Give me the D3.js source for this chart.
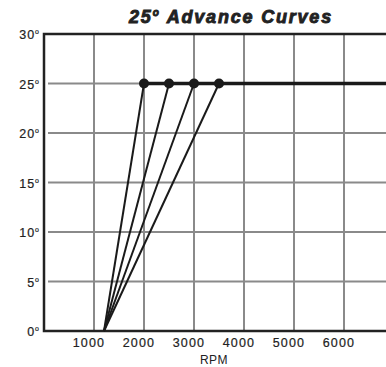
<!DOCTYPE html>
<html>
<head>
<meta charset="utf-8">
<script src="https://cdn.jsdelivr.net/npm/d3@7"></script>
<style>
  body { margin: 0; background: #fff; }
  text { font-family: "Liberation Sans", Arial, sans-serif; fill: #222; }
</style>
</head>
<body>
<script>
const rpmTicks = [1000, 2000, 3000, 4000, 5000, 6000];
const degTicks = [0, 5, 10, 15, 20, 25, 30];
const startRpm = 1200;
const fullRpms = [2000, 2500, 3000, 3500];
const fullAdvance = 25;

const width = 386, height = 367;
const svg = d3.select('body').append('svg')
    .attr('width', width)
    .attr('height', height);

const x = d3.scaleLinear().domain([0, 7000]).range([44, 394]);
const y = d3.scaleLinear().domain([0, 30]).range([331, 34]);

// grid
svg.selectAll('.vgrid')
    .data(rpmTicks)
    .enter()
    .append('line')
    .attr('x1', d => x(d)).attr('x2', d => x(d))
    .attr('y1', y(30)).attr('y2', y(0))
    .attr('stroke', '#8a8a8a')
    .attr('stroke-width', 2);

svg.selectAll('.hgrid')
    .data(degTicks.filter(d => d > 0 && d < 30))
    .enter()
    .append('line')
    .attr('x1', x(0) + 4).attr('x2', width)
    .attr('y1', d => y(d)).attr('y2', d => y(d))
    .attr('stroke', '#8a8a8a')
    .attr('stroke-width', 2);

// frame
svg.append('path')
    .attr('d', `M${width},${y(30)} H${x(0)} V${y(0)} H${width}`)
    .attr('fill', 'none')
    .attr('stroke', '#222')
    .attr('stroke-width', 2.5);

// y labels
const yl = svg.selectAll('.ylab')
    .data(degTicks)
    .enter()
    .append('text')
    .attr('x', 39)
    .attr('y', d => y(d) + 5)
    .attr('text-anchor', 'end')
    .attr('font-size', 12.5)
    .attr('letter-spacing', 1)
    .attr('stroke', '#222')
    .attr('stroke-width', 0.2);
yl.append('tspan').text(d => d);
yl.append('tspan').attr('font-size', 7).attr('dy', -5).attr('letter-spacing', 0).text('o');

// x labels
svg.selectAll('.xlab')
    .data(rpmTicks)
    .enter()
    .append('text')
    .attr('x', d => x(d) + 11)
    .attr('y', 347)
    .attr('text-anchor', 'end')
    .attr('font-size', 12.5)
    .attr('letter-spacing', 1.1)
    .attr('stroke', '#222')
    .attr('stroke-width', 0.2)
    .text(d => d);

svg.append('text')
    .attr('x', 214)
    .attr('y', 364)
    .attr('text-anchor', 'middle')
    .attr('font-size', 12)
    .attr('letter-spacing', 0.5)
    .text('RPM');

// title
const title = svg.append('text')
    .attr('x', 231)
    .attr('y', 23)
    .attr('text-anchor', 'middle')
    .attr('font-size', 18)
    .attr('font-weight', 'bold')
    .attr('font-style', 'italic')
    .attr('letter-spacing', 1.8)
    .attr('stroke', '#222')
    .attr('stroke-width', 0.9);
title.append('tspan').text('25');
title.append('tspan').attr('font-size', 10).attr('dy', -7).text('o');
title.append('tspan').attr('dy', 7).text(' Advance Curves');

// curves
svg.append('line')
    .attr('x1', x(fullRpms[0])).attr('x2', width)
    .attr('y1', y(fullAdvance)).attr('y2', y(fullAdvance))
    .attr('stroke', '#1a1a1a')
    .attr('stroke-width', 3.5);

svg.selectAll('.curve')
    .data(fullRpms)
    .enter()
    .append('line')
    .attr('x1', x(startRpm)).attr('y1', y(0))
    .attr('x2', d => x(d)).attr('y2', y(fullAdvance))
    .attr('stroke', '#1a1a1a')
    .attr('stroke-width', 2);

svg.selectAll('.dot')
    .data(fullRpms)
    .enter()
    .append('circle')
    .attr('cx', d => x(d))
    .attr('cy', y(fullAdvance))
    .attr('r', 5)
    .attr('fill', '#1a1a1a');
</script>
</body>
</html>
